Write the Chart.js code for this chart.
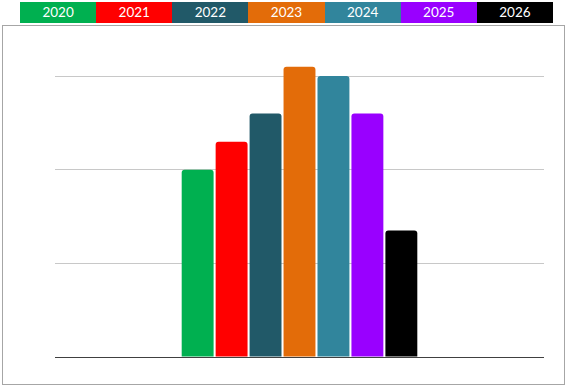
<!DOCTYPE html>
<html>
<head>
<meta charset="utf-8">
<script src="https://cdn.jsdelivr.net/npm/chart.js@4"></script>
<style>
html,body{margin:0;padding:0;background:#fff;width:568px;height:390px;overflow:hidden;font-family:Lato,'Open Sans',sans-serif}
#legend{position:absolute;left:20px;top:2px;width:533px;height:21px;display:flex}
#legend div{flex:1;color:#fff;font-size:13.5px;line-height:21px;text-align:center}
#box{position:absolute;left:2px;top:25px;width:561px;height:358px;border:1px solid #a6a6a6}
</style>
</head>
<body>
<div id="legend"></div>
<div id="box"><canvas id="chart" width="561" height="358"></canvas></div>
<script>
// ===== data =====
const YEARS=['2020','2021','2022','2023','2024','2025','2026'];
const VALUES=[20,23,26,31,30,26,13.5];
const COLORS=['#00B050','#FF0000','#215968','#E36C09','#31859C','#9900FF','#000000'];

const legend=document.getElementById('legend');
YEARS.forEach((y,i)=>{const d=document.createElement('div');d.style.background=COLORS[i];d.textContent=y;legend.appendChild(d);});

new Chart(document.getElementById('chart').getContext('2d'),{
  type:'bar',
  data:{labels:[''],datasets:YEARS.map((y,i)=>({label:y,data:[VALUES[i]],backgroundColor:COLORS[i],borderRadius:3,borderSkipped:'bottom',categoryPercentage:0.486,barPercentage:0.94}))},
  options:{responsive:false,animation:false,
    layout:{padding:{left:52,right:20,top:22,bottom:27}},
    plugins:{legend:{display:false},tooltip:{enabled:false}},
    scales:{
      x:{display:false},
      y:{min:0,max:33,ticks:{display:false,stepSize:10},border:{display:false},
        grid:{drawTicks:false,lineWidth:1,color:c=>c.tick.value===0?'#404040':(c.tick.value%10===0?'#c8c8c8':'transparent')}}
    }
  }
});
</script>
</body>
</html>
